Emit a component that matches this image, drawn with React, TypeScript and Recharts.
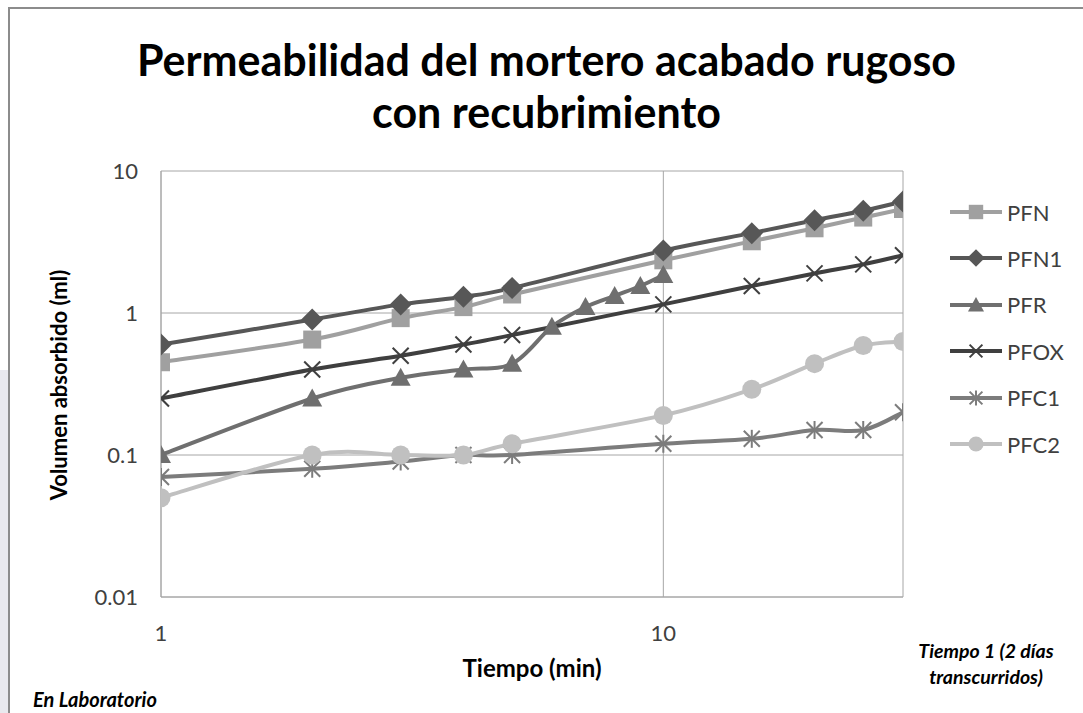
import React from "react";
import {
  LineChart,
  Line,
  XAxis,
  YAxis,
  CartesianGrid,
} from "recharts";

// tiempo (min) for most series, PFR was read every minute up to 10
const tiempo = [1, 2, 3, 4, 5, 10, 15, 20, 25, 30];
const tiempoPFR = [1, 2, 3, 4, 5, 6, 7, 8, 9, 10];

const pfn = [0.45, 0.65, 0.92, 1.1, 1.35, 2.35, 3.2, 3.95, 4.7, 5.4];
const pfn1 = [0.6, 0.9, 1.15, 1.3, 1.5, 2.75, 3.65, 4.5, 5.25, 6.1];
const pfr = [0.1, 0.25, 0.35, 0.4, 0.44, 0.8, 1.1, 1.32, 1.55, 1.85];
const pfox = [0.25, 0.4, 0.5, 0.6, 0.7, 1.15, 1.55, 1.9, 2.2, 2.55];
const pfc1 = [0.07, 0.08, 0.09, 0.1, 0.1, 0.12, 0.13, 0.15, 0.15, 0.2];
const pfc2 = [0.05, 0.1, 0.1, 0.1, 0.12, 0.19, 0.29, 0.44, 0.59, 0.63];

const xTicks = [1, 10];
const yTicks = [0.01, 0.1, 1, 10];

const toRows = (xs: number[], ys: number[]) =>
  xs.map((t, i) => ({ t, v: ys[i] }));

const series = [
  { name: "PFN", x: tiempo, y: pfn, color: "#a0a0a0", shape: "square" },
  { name: "PFN1", x: tiempo, y: pfn1, color: "#575757", shape: "diamond" },
  { name: "PFR", x: tiempoPFR, y: pfr, color: "#6f6f6f", shape: "triangle" },
  { name: "PFOX", x: tiempo, y: pfox, color: "#3f3f3f", shape: "x" },
  { name: "PFC1", x: tiempo, y: pfc1, color: "#7c7c7c", shape: "star" },
  { name: "PFC2", x: tiempo, y: pfc2, color: "#c0c0c0", shape: "circle" },
];

// excel-like smoothed line (catmull-rom)
const smooth: any = (ctx: any) => {
  let pts: number[][] = [];
  return {
    areaStart() {},
    areaEnd() {},
    lineStart() {
      pts = [];
    },
    point(x: number, y: number) {
      pts.push([+x, +y]);
    },
    lineEnd() {
      if (!pts.length) return;
      ctx.moveTo(pts[0][0], pts[0][1]);
      for (let i = 0; i < pts.length - 1; i++) {
        const p0 = pts[Math.max(i - 1, 0)];
        const p1 = pts[i];
        const p2 = pts[i + 1];
        const p3 = pts[Math.min(i + 2, pts.length - 1)];
        ctx.bezierCurveTo(
          p1[0] + (p2[0] - p0[0]) / 6,
          p1[1] + (p2[1] - p0[1]) / 6,
          p2[0] - (p3[0] - p1[0]) / 6,
          p2[1] - (p3[1] - p1[1]) / 6,
          p2[0],
          p2[1]
        );
      }
    },
  };
};

function Marker({ shape, cx, cy, color, s = 1 }: any) {
  if (cx == null || cy == null) return null;
  if (shape === "square") {
    const h = 9 * s;
    return <rect x={cx - h} y={cy - h} width={2 * h} height={2 * h} fill={color} />;
  }
  if (shape === "diamond") {
    const h = 11 * s;
    return (
      <polygon
        points={`${cx},${cy - h} ${cx + h},${cy} ${cx},${cy + h} ${cx - h},${cy}`}
        fill={color}
      />
    );
  }
  if (shape === "triangle") {
    const h = 10 * s;
    return (
      <polygon
        points={`${cx},${cy - h} ${cx + h},${cy + h * 0.8} ${cx - h},${cy + h * 0.8}`}
        fill={color}
      />
    );
  }
  if (shape === "circle") {
    return <circle cx={cx} cy={cy} r={9.5 * s} fill={color} />;
  }
  const h = 8 * s;
  return (
    <g stroke={color} strokeWidth={2}>
      <line x1={cx - h} y1={cy - h} x2={cx + h} y2={cy + h} />
      <line x1={cx - h} y1={cy + h} x2={cx + h} y2={cy - h} />
      {shape === "star" && <line x1={cx} y1={cy - h - 1} x2={cx} y2={cy + h + 1} />}
    </g>
  );
}

export default function App() {
  return (
    <div
      style={{
        position: "absolute",
        left: 0,
        top: 0,
        width: 1083,
        height: 713,
        background: "#fff",
        fontFamily: "Lato, sans-serif",
        overflow: "hidden",
      }}
    >
      <div
        style={{
          position: "absolute",
          left: 0,
          top: 370,
          width: 8,
          height: 343,
          background: "#e9e9ee",
        }}
      />
      <div
        style={{
          position: "absolute",
          left: 8,
          top: 7,
          width: 1083,
          height: 713,
          borderTop: "2px solid #8c8c8c",
          borderLeft: "2px solid #8c8c8c",
        }}
      />

      <LineChart
        width={1083}
        height={713}
        margin={{ top: 171, right: 180, bottom: 20, left: 81 }}
        style={{ position: "absolute", left: 0, top: 0 }}
      >
        <CartesianGrid stroke="#a6a6a6" strokeWidth={1} />
        <XAxis
          dataKey="t"
          type="number"
          scale="log"
          domain={[1, 30]}
          ticks={xTicks}
          allowDataOverflow
          height={96}
          stroke="#a6a6a6"
          tickLine={false}
          tickSize={0}
          tickMargin={28}
          tick={{ fill: "#404040", fontSize: 22, fontFamily: "Lato" }}
          label={{
            value: "Tiempo (min)",
            position: "insideBottom",
            offset: 16,
            fill: "#000",
            fontSize: 24,
            fontWeight: 700,
            fontFamily: "Lato",
          }}
        />
        <YAxis
          type="number"
          scale="log"
          domain={[0.01, 10]}
          ticks={yTicks}
          allowDataOverflow
          width={80}
          stroke="#a6a6a6"
          tickLine={false}
          tickSize={0}
          tickMargin={23}
          tick={{ fill: "#404040", fontSize: 22, fontFamily: "Lato" }}
        />
        {series.map((s) => (
          <Line
            key={s.name}
            data={toRows(s.x, s.y)}
            dataKey="v"
            name={s.name}
            type={smooth}
            stroke={s.color}
            strokeWidth={4}
            isAnimationActive={false}
            activeDot={false}
            dot={(p: any) => (
              <Marker
                key={`${s.name}-${p.index}`}
                shape={s.shape}
                cx={p.cx}
                cy={p.cy}
                color={s.color}
              />
            )}
          />
        ))}
      </LineChart>

      <div
        style={{
          position: "absolute",
          left: 5,
          top: 34,
          width: 1083,
          textAlign: "center",
          fontSize: 43,
          fontWeight: 700,
          lineHeight: "52px",
          color: "#000",
        }}
      >
        Permeabilidad del mortero acabado rugoso
        <br />
        con recubrimiento
      </div>

      <div
        style={{
          position: "absolute",
          left: 58,
          top: 385,
          transform: "translate(-50%, -50%) rotate(-90deg)",
          whiteSpace: "nowrap",
          fontSize: 22,
          fontWeight: 700,
          color: "#000",
        }}
      >
        Volumen absorbido (ml)
      </div>

      {series.map((s, i) => (
        <div
          key={s.name}
          style={{
            position: "absolute",
            left: 948,
            top: 212 + i * 46.4 - 15,
            height: 30,
            display: "flex",
            alignItems: "center",
          }}
        >
          <svg width={56} height={30}>
            <line x1={2} y1={15} x2={54} y2={15} stroke={s.color} strokeWidth={4} />
            <Marker shape={s.shape} cx={28} cy={15} color={s.color} s={0.8} />
          </svg>
          <span style={{ fontSize: 22, color: "#404040", marginLeft: 3 }}>{s.name}</span>
        </div>
      ))}

      <div
        style={{
          position: "absolute",
          left: 33,
          top: 687,
          fontSize: 20,
          fontWeight: 700,
          fontStyle: "italic",
          color: "#000",
          whiteSpace: "nowrap",
        }}
      >
        En Laboratorio
      </div>
      <div
        style={{
          position: "absolute",
          left: 896,
          top: 638,
          width: 180,
          textAlign: "center",
          fontSize: 19.5,
          lineHeight: "26px",
          fontWeight: 700,
          fontStyle: "italic",
          color: "#000",
        }}
      >
        Tiempo 1 (2 días
        <br />
        transcurridos)
      </div>
    </div>
  );
}
